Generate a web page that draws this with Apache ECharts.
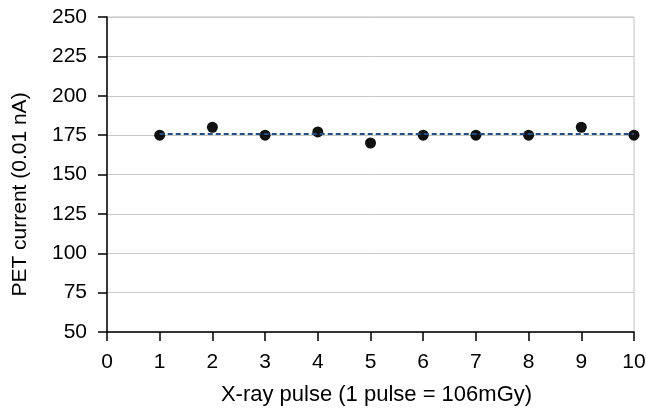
<!DOCTYPE html>
<html>
<head>
<meta charset="utf-8">
<script src="https://cdn.jsdelivr.net/npm/echarts@6/dist/echarts.min.js"></script>
<style>
  html, body { margin: 0; padding: 0; background: #fff; }
  #chart { width: 646px; height: 409px; }
</style>
</head>
<body>
<div id="chart"></div>
<script>
// pulse number and measured current
const pulses = [1, 2, 3, 4, 5, 6, 7, 8, 9, 10];
const current = [175, 180, 175, 177, 170, 175, 175, 175, 180, 175];
// flat trend line level
const trendLevel = 175.7;
const trendX = [1, 10];

const font = 'Liberation Sans, Arial, sans-serif';

const chart = echarts.init(document.getElementById('chart'));
chart.setOption({
  animation: false,
  grid: {
    left: 107, right: 12, top: 17, bottom: 77,
    outerBoundsMode: 'none',
    show: true, borderColor: '#c0c0c0', borderWidth: 1
  },
  xAxis: {
    type: 'value',
    min: 0, max: 10, interval: 1,
    name: 'X-ray pulse (1 pulse = 106mGy)',
    nameLocation: 'middle',
    nameGap: 52,
    nameTextStyle: { fontFamily: font, fontSize: 22, color: '#000', padding: [0, 0, 0, 12] },
    axisLine: { show: true, lineStyle: { color: '#000', width: 1.5 } },
    axisTick: { show: true, length: 9, lineStyle: { color: '#000', width: 1.5 } },
    axisLabel: { fontFamily: font, fontSize: 21, color: '#000', margin: 20 },
    splitLine: { show: false }
  },
  yAxis: {
    type: 'value',
    min: 50, max: 250, interval: 25,
    name: 'PET current (0.01 nA)',
    nameLocation: 'middle',
    nameGap: 76,
    nameTextStyle: { fontFamily: font, fontSize: 21, color: '#000', padding: [0, 40, 0, 0] },
    axisLine: { show: true, lineStyle: { color: '#000', width: 1.5 } },
    axisTick: { show: true, length: 9, lineStyle: { color: '#000', width: 1.5 } },
    axisLabel: { fontFamily: font, fontSize: 21, color: '#000', margin: 20 },
    splitLine: { show: true, lineStyle: { color: '#c8c8c8', width: 1 } }
  },
  series: [
    {
      type: 'line',
      data: trendX.map(x => [x, trendLevel]),
      showSymbol: false,
      symbol: 'none',
      lineStyle: { color: '#1f4e8c', width: 2, type: [5, 3] },
      z: 3
    },
    {
      type: 'scatter',
      data: pulses.map((p, i) => [p, current[i]]),
      symbol: 'circle',
      symbolSize: 11,
      itemStyle: { color: '#111111', opacity: 1 },
      z: 2
    }
  ]
});
</script>
</body>
</html>
